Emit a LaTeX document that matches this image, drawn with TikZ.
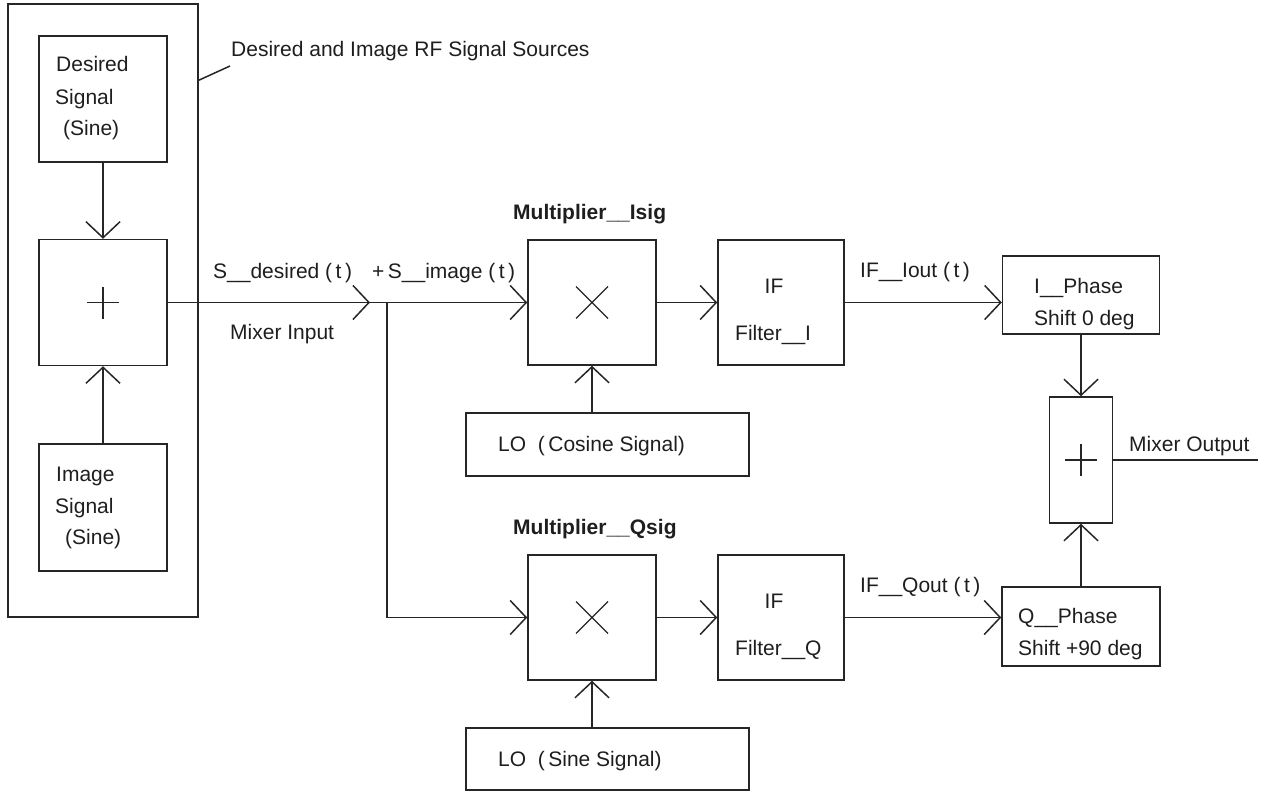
\documentclass[tikz,border=0pt]{standalone}
\usepackage{fontspec}
\setmainfont{Liberation Sans}
\usetikzlibrary{arrows.meta}
\definecolor{linec}{HTML}{262626}
\definecolor{txtc}{HTML}{1E1E1E}
\begin{document}
\begin{tikzpicture}[x=1pt,y=-1pt,
  box/.style={draw=linec,line width=1.5pt,inner sep=0pt},
  lbl/.style={anchor=base west,inner sep=0pt,text=txtc,font=\fontsize{21}{25}\selectfont},
  blbl/.style={lbl,font=\fontsize{21}{25}\selectfont\bfseries},
  conn/.style={draw=linec,line width=1.5pt},
  arr/.style={conn,-{Straight Barb[length=16pt,width=34pt]}},
  sym/.style={draw=linec,line width=1.3pt}]
\useasboundingbox (0,0) rectangle (1261,792);

% boxes
\node[box,minimum width=190pt,minimum height=613pt] (src) at (103,310.5) {};
\node[box,minimum width=128pt,minimum height=126pt] (des) at (103,99) {};
\node[box,minimum width=128pt,minimum height=126pt] (sum1) at (103,302.5) {};
\node[box,minimum width=128pt,minimum height=127pt] (img) at (103,507.5) {};
\node[box,minimum width=128pt,minimum height=125pt] (mulI) at (592,302.5) {};
\node[box,minimum width=126pt,minimum height=125pt] (filI) at (781,302.5) {};
\node[box,minimum width=283pt,minimum height=63pt] (loI) at (607.5,444.5) {};
\node[box,minimum width=157pt,minimum height=78pt] (phI) at (1081,295) {};
\node[box,minimum width=63pt,minimum height=126pt] (sum2) at (1081,460) {};
\node[box,minimum width=158pt,minimum height=79pt] (phQ) at (1081,626.5) {};
\node[box,minimum width=128pt,minimum height=125pt] (mulQ) at (592,617.5) {};
\node[box,minimum width=126pt,minimum height=125pt] (filQ) at (781,617.5) {};
\node[box,minimum width=283pt,minimum height=62pt] (loQ) at (607.5,759) {};

% symbols
\draw[sym] ([xshift=-16pt]sum1.center) -- ([xshift=16pt]sum1.center)
           ([yshift=-16pt]sum1.center) -- ([yshift=16pt]sum1.center);
\draw[sym] ([xshift=-16pt]sum2.center) -- ([xshift=16pt]sum2.center)
           ([yshift=-16pt]sum2.center) -- ([yshift=16pt]sum2.center);
\draw[sym] ([shift={(-16pt,-16pt)}]mulI.center) -- ([shift={(16pt,16pt)}]mulI.center)
           ([shift={(-16pt,16pt)}]mulI.center) -- ([shift={(16pt,-16pt)}]mulI.center);
\draw[sym] ([shift={(-16pt,-16pt)}]mulQ.center) -- ([shift={(16pt,16pt)}]mulQ.center)
           ([shift={(-16pt,16pt)}]mulQ.center) -- ([shift={(16pt,-16pt)}]mulQ.center);

% texts
\node[lbl] (tsrc) at (231,57) {Desired and Image RF Signal Sources};
\coordinate (ldr) at (230,66);
\draw[conn] (src.north east) ++(0,77) -- (ldr);
\node[lbl] (d1) at (56,72) {Desired};
\node[lbl] (d2) at (55,104) {Signal};
\node[lbl] (d3) at (63,135) {(Sine)};
\node[lbl] (i1) at (56,481) {Image};
\node[lbl] (i2) at (55,513) {Signal};
\node[lbl] (i3) at (65,544) {(Sine)};
\node[lbl] (sd) at (213,278) {S\_\_desired (\,t\,)};
\node[lbl] (si) at (372,278) {+\,S\_\_image (\,t\,)};
\node[lbl] (mi) at (230,339) {Mixer Input};
\node[blbl] (ml1) at (513,219) {Multiplier\_\_Isig};
\node[lbl,anchor=base] (if1) at (774,293) {IF};
\node[lbl] (fi1) at (735,340) {Filter\_\_I};
\node[lbl] (lo1t) at (498,451) {LO\ \ (\,Cosine Signal)};
\node[lbl] (iout) at (860,277) {IF\_\_Iout (\,t\,)};
\node[lbl] (ph1a) at (1034,293) {I\_\_Phase};
\node[lbl] (ph1b) at (1034,325) {Shift 0 deg};
\node[lbl] (mo) at (1129,451) {Mixer Output};
\node[lbl] (ph2a) at (1018,623) {Q\_\_Phase};
\node[lbl] (ph2b) at (1018,655) {Shift +90 deg};
\node[blbl] (ml2) at (513,534) {Multiplier\_\_Qsig};
\node[lbl,anchor=base] (if2) at (774,608) {IF};
\node[lbl] (fi2) at (735,655) {Filter\_\_Q};
\node[lbl] (lo2t) at (498,766) {LO\ \ (\,Sine Signal)};
\node[lbl] (qout) at (860,592) {IF\_\_Qout (\,t\,)};

% connectors
\draw[arr] (des.south) -- (sum1.north);
\draw[arr] (img.north) -- (sum1.south);
\coordinate (mid) at (370,302.5);
\coordinate (br) at (387,302.5);
\draw[arr] (sum1.east) -- (mid);
\draw[arr] (mid) -- (mulI.west);
\draw[arr] (br) |- (mulQ.west);
\draw[arr] (mulI.east) -- (filI.west);
\draw[arr] (mulQ.east) -- (filQ.west);
\draw[arr] (loI.north -| mulI.south) -- (mulI.south);
\draw[arr] (loQ.north -| mulQ.south) -- (mulQ.south);
\draw[arr] (filI.east) -- (filI.east -| phI.west);
\draw[arr] (filQ.east) -- (filQ.east -| phQ.west);
\draw[arr] (phI.south) -- (sum2.north);
\draw[arr] (phQ.north) -- (sum2.south);
\coordinate (out) at (1258,460);
\draw[conn] (sum2.east) -- (out);
\end{tikzpicture}
\end{document}
